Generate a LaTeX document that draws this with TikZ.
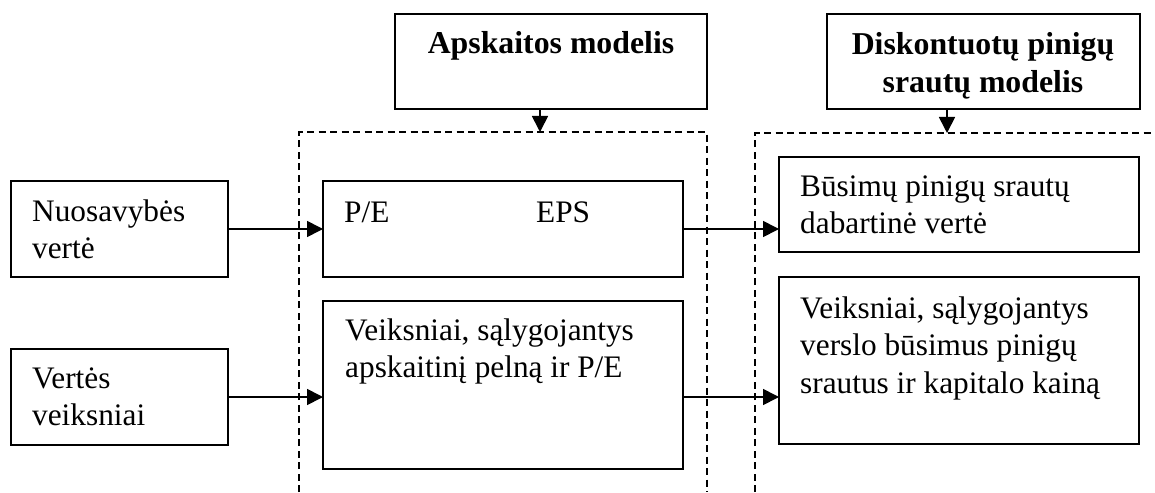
\documentclass[tikz,border=0pt]{standalone}
\usepackage{fontspec}
\setmainfont{Liberation Serif}
\usetikzlibrary{arrows.meta}
\begin{document}
\begin{tikzpicture}[x=1pt,y=-1pt,
  box/.style={draw,line width=1.8pt,anchor=north west,inner sep=0pt,outer sep=0pt},
  txt/.style={anchor=north west,inner sep=0pt,align=left,font=\fontsize{31.3}{37.5}\selectfont},
  ttl/.style={anchor=north,inner sep=0pt,align=center,font=\fontsize{31.8}{38}\selectfont\bfseries},
  arr/.style={line width=1.7pt,-{Triangle[length=16pt,width=16pt]}},
  frame/.style={line width=1.4pt,dash pattern=on 7pt off 4.5pt}]
\useasboundingbox (0,0) rectangle (1155,492);
\fill[white] (0,0) rectangle (1155,492);

% model headers
\node[box,minimum width=312,minimum height=95] (hA) at (395,14) {};
\node[ttl] (hAt) at (551,27) {\strut Apskaitos modelis};
\node[box,minimum width=313,minimum height=95] (hB) at (827,14) {};
\node[ttl] (hBt) at (983,28) {\strut Diskontuotų pinigų\\srautų modelis};

% dashed model frames
\coordinate (fA1) at (299,492);
\coordinate (fA2) at (299,132);
\coordinate (fA3) at (707,132);
\coordinate (fA4) at (707,492);
\coordinate (fB1) at (755,492);
\coordinate (fB2) at (755,133);
\coordinate (fB3) at (1155,133);
\draw[frame] (fA1) -- (fA2) -- (fA3) -- (fA4);
\draw[frame] (fB1) -- (fB2) -- (fB3);

% left inputs
\node[box,minimum width=217,minimum height=96] (N) at (11,181) {};
\node[txt] (Nt) at (32,195) {\strut Nuosavybės\\vertė};
\node[box,minimum width=217,minimum height=96] (V) at (11,349) {};
\node[txt] (Vt) at (32,362) {\strut Vertės\\veiksniai};

% accounting model
\node[box,minimum width=360,minimum height=96] (PE) at (323,181) {};
\node[txt] (PEt) at (344,196.5) {\strut P/E};
\node[txt] (EPSt) at (536,196.5) {\strut EPS};
\node[box,minimum width=360,minimum height=168] (VA) at (323,301) {};
\node[txt] (VAt) at (345,314) {\strut Veiksniai, sąlygojantys\\apskaitinį pelną ir P/E};

% discounted cash flow model
\node[box,minimum width=360,minimum height=95] (B1) at (779,157) {};
\node[txt] (B1t) at (800,170) {\strut Būsimų pinigų srautų\\dabartinė vertė};
\node[box,minimum width=360,minimum height=167] (B2) at (779,277) {};
\node[txt] (B2t) at (800,292) {\strut Veiksniai, sąlygojantys\\verslo būsimus pinigų\\srautus ir kapitalo kainą};

% connectors
\draw[arr] (hA.south -| 540,0) -- (fA2 -| 540,0);
\draw[arr] (hB.south -| 947,0) -- (fB2 -| 947,0);
\draw[arr] (N.east) -- (PE.west);
\draw[arr] (V.east) -- (V.east -| VA.west);
\draw[arr] (PE.east) -- (PE.east -| B1.west);
\draw[arr] (V.east -| VA.east) -- (V.east -| B2.west);
\end{tikzpicture}
\end{document}
